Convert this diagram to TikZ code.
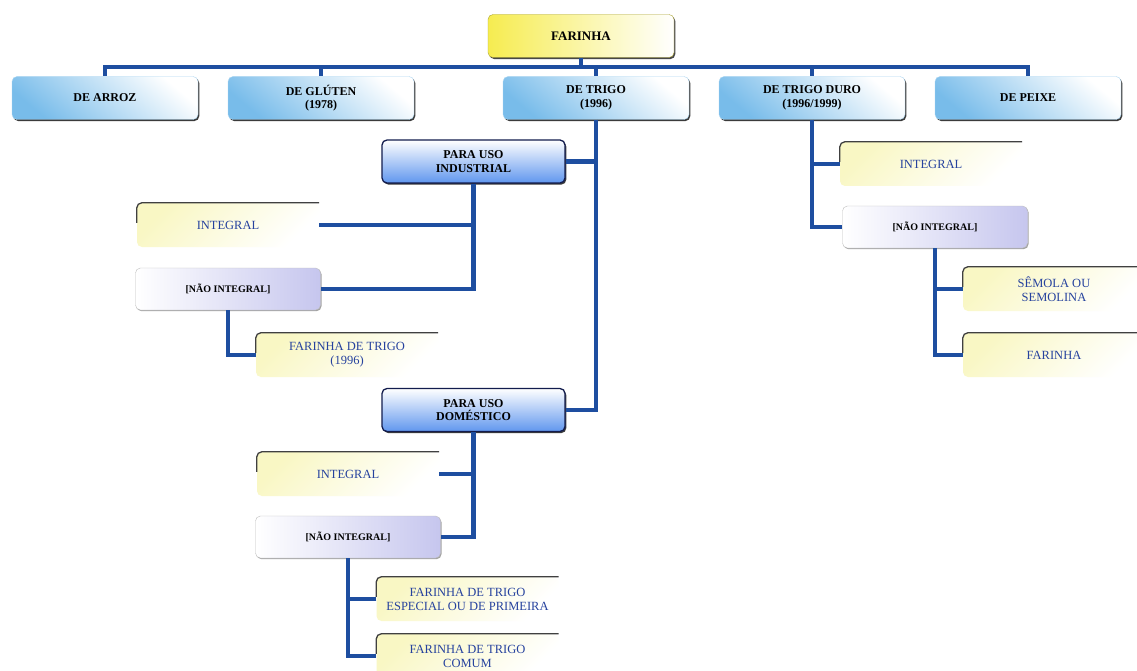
\documentclass[tikz,border=0pt]{standalone}
\usepackage{fontspec}
\setmainfont{Liberation Serif}
\usepackage{tikz}
\usetikzlibrary{shapes,arrows,shadows}
\definecolor{linkblue}{RGB}{30,78,160}
\definecolor{boxblue}{RGB}{120,188,234}
\definecolor{navy}{RGB}{18,28,78}
\definecolor{leafyellow}{RGB}{249,247,196}
\definecolor{lilac}{RGB}{198,198,238}
\definecolor{leaftext}{RGB}{38,66,158}
\definecolor{farinhayellow}{RGB}{246,236,80}

\begin{document}
\begin{tikzpicture}[x=1pt,y=-1pt,node distance=216pt,
	caixa/.style={rounded corners=5pt, minimum width=186pt, minimum height=43pt, inner sep=2pt, align=center},
	topo/.style={caixa, font=\fontsize{12}{13.5}\selectfont\bfseries, top color=white, bottom color=boxblue, shading angle=-40, draw=boxblue!60,
		drop shadow={shadow xshift=1.3pt, shadow yshift=-1.6pt, fill=black!85, opacity=.9}},
	uso/.style={topo, minimum width=183pt, bottom color=boxblue!80!blue, draw=navy, line width=1.3pt},
	raiz/.style={caixa, font=\fontsize{13}{15}\selectfont\bfseries, left color=farinhayellow, middle color=white, right color=white, draw=farinhayellow!70!black,
		drop shadow={shadow xshift=1.3pt, shadow yshift=-1.6pt, fill=black!80, opacity=.9}},
	nao/.style={caixa, minimum width=185pt, minimum height=42pt, font=\fontsize{10}{11}\selectfont\bfseries, left color=white, right color=lilac, draw=black!25,
		drop shadow={shadow xshift=1pt, shadow yshift=-1.2pt, fill=black!45, opacity=.8}},
	folha/.style={caixa, minimum width=182pt, minimum height=44pt, text=leaftext, font=\fontsize{12.5}{14}\selectfont, top color=leafyellow, bottom color=white, shading angle=45},
	borda/.style={draw=black!75, line width=1.3pt, rounded corners=5pt},
	link/.style={draw=linkblue, line width=4.4pt}
]
\clip (0,0) rectangle (1137,671);
\fill[white] (0,0) rectangle (1137,671);

\node[raiz] (F) at (581,36) {FARINHA};
\node[topo] (R) at (105,98) {DE ARROZ};
\node[topo,right of=R] (G) {DE GL\'UTEN\\(1978)};
\node[topo] (T) at (596,98) {DE TRIGO\\(1996)};
\node[topo,right of=T] (TD) {DE TRIGO DURO\\(1996/1999)};
\node[topo,right of=TD] (P) {DE PEIXE};

\node[uso] (T1) at (473.5,161.5) {PARA USO\\INDUSTRIAL};
\node[uso,below of=T1,node distance=248.5pt] (T2) {PARA USO\\DOM\'ESTICO};

\node[folha] (T11) at (228,225) {INTEGRAL};
\node[nao,below of=T11,node distance=64pt] (T12) {[NÃO INTEGRAL]};
\node[folha] (T121) at (347,355) {FARINHA DE TRIGO\\(1996)};

\node[folha] (T21) at (348,474) {INTEGRAL};
\node[nao,below of=T21,node distance=63pt] (T22) {[NÃO INTEGRAL]};
\node[folha] (T221) at (467.5,599) {FARINHA DE TRIGO\\ESPECIAL OU DE PRIMEIRA};
\node[folha,below of=T221,node distance=57pt] (T222) {FARINHA DE TRIGO\\COMUM};

\node[folha] (TD1) at (931,164) {INTEGRAL};
\node[nao,below of=TD1,node distance=63pt,xshift=4pt] (TD2) {[NÃO INTEGRAL]};
\node[folha] (TD21) at (1054,289) {SÊMOLA OU\\SEMOLINA};
\node[folha,below of=TD21,node distance=66pt] (TD22) {FARINHA};

\draw[borda] ([yshift=-20pt]T11.north west) -- (T11.north west) -- (T11.north east);
\draw[borda] ([yshift=-20pt]T121.north west) -- (T121.north west) -- (T121.north east);
\draw[borda] ([yshift=-20pt]T21.north west) -- (T21.north west) -- (T21.north east);
\draw[borda] ([yshift=-20pt]T221.north west) -- (T221.north west) -- (T221.north east);
\draw[borda] ([yshift=-20pt]T222.north west) -- (T222.north west) -- (T222.north east);
\draw[borda] ([yshift=-20pt]TD1.north west) -- (TD1.north west) -- (TD1.north east);
\draw[borda] ([yshift=-20pt]TD21.north west) -- (TD21.north west) -- (TD21.north east);
\draw[borda] ([yshift=-20pt]TD22.north west) -- (TD22.north west) -- (TD22.north east);

\coordinate (bus) at (581,67);
\draw[link] (F.south) -- (bus);
\draw[link] (bus) -| (R.north);
\draw[link] (bus) -| (G.north);
\draw[link] (bus) -| (T.north);
\draw[link] (bus) -| (TD.north);
\draw[link] (bus) -| (P.north);

\draw[link] (T.south) |- (T2.east);
\draw[link] (T1.east) -- (T1.east -| T.south);
\draw[link] (T1.south) |- (T12.east);
\draw[link] (T11.east) -- (T11.east -| T1.south);
\draw[link] (T12.south) |- (T121.west);
\draw[link] (T2.south) |- (T22.east);
\draw[link] (T21.east) -- (T21.east -| T2.south);
\draw[link] (T22.south) |- (T222.west);
\draw[link] (T221.west) -- (T221.west -| T22.south);

\draw[link] (TD.south) |- (TD2.west);
\draw[link] (TD1.west) -- (TD1.west -| TD.south);
\draw[link] (TD2.south) |- (TD22.west);
\draw[link] (TD21.west) -- (TD21.west -| TD2.south);
\end{tikzpicture}
\end{document}
